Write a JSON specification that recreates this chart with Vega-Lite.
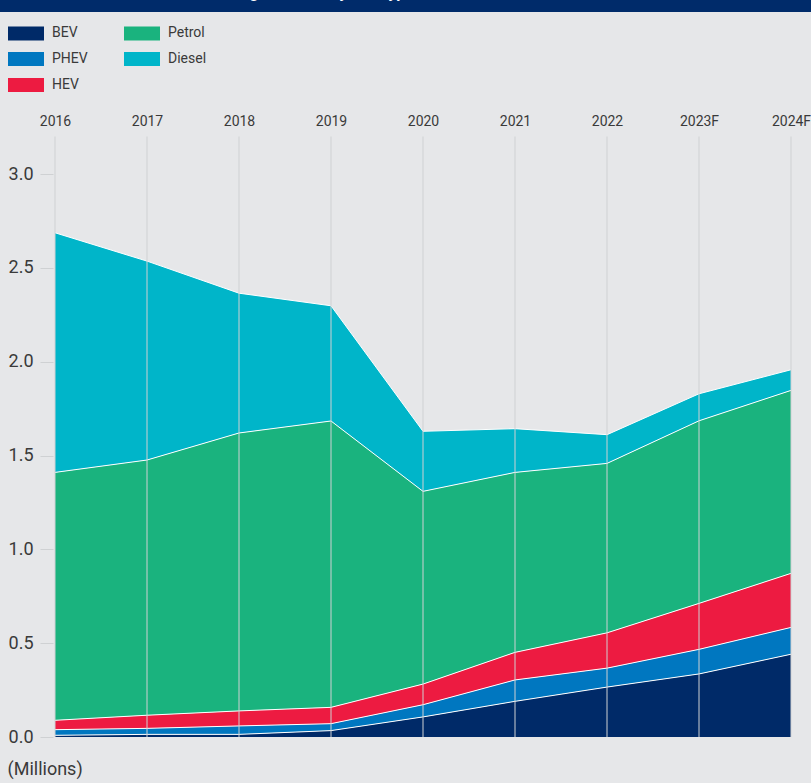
{
  "$schema": "https://vega.github.io/schema/vega-lite/v6.json",
  "width": 811,
  "height": 783,
  "autosize": {"type": "none"},
  "padding": 0,
  "background": "#e6e7e9",
  "config": {
    "view": {"stroke": null},
    "font": "Roboto",
    "axis": {"labelFont": "Roboto", "titleFont": "Roboto", "labelColor": "#3a3a3a", "titleColor": "#3a3a3a"},
    "legend": {"labelFont": "Roboto", "labelColor": "#3a3a3a"}
  },
  "data": {"values": [
    {"year": "2016", "type": "BEV", "order": 1, "value": 0.009},
    {"year": "2016", "type": "PHEV", "order": 2, "value": 0.030},
    {"year": "2016", "type": "HEV", "order": 3, "value": 0.050},
    {"year": "2016", "type": "Petrol", "order": 4, "value": 1.321},
    {"year": "2016", "type": "Diesel", "order": 5, "value": 1.277},
    {"year": "2017", "type": "BEV", "order": 1, "value": 0.014},
    {"year": "2017", "type": "PHEV", "order": 2, "value": 0.032},
    {"year": "2017", "type": "HEV", "order": 3, "value": 0.070},
    {"year": "2017", "type": "Petrol", "order": 4, "value": 1.360},
    {"year": "2017", "type": "Diesel", "order": 5, "value": 1.060},
    {"year": "2018", "type": "BEV", "order": 1, "value": 0.014},
    {"year": "2018", "type": "PHEV", "order": 2, "value": 0.045},
    {"year": "2018", "type": "HEV", "order": 3, "value": 0.080},
    {"year": "2018", "type": "Petrol", "order": 4, "value": 1.481},
    {"year": "2018", "type": "Diesel", "order": 5, "value": 0.745},
    {"year": "2019", "type": "BEV", "order": 1, "value": 0.034},
    {"year": "2019", "type": "PHEV", "order": 2, "value": 0.037},
    {"year": "2019", "type": "HEV", "order": 3, "value": 0.087},
    {"year": "2019", "type": "Petrol", "order": 4, "value": 1.526},
    {"year": "2019", "type": "Diesel", "order": 5, "value": 0.614},
    {"year": "2020", "type": "BEV", "order": 1, "value": 0.107},
    {"year": "2020", "type": "PHEV", "order": 2, "value": 0.065},
    {"year": "2020", "type": "HEV", "order": 3, "value": 0.110},
    {"year": "2020", "type": "Petrol", "order": 4, "value": 1.027},
    {"year": "2020", "type": "Diesel", "order": 5, "value": 0.320},
    {"year": "2021", "type": "BEV", "order": 1, "value": 0.190},
    {"year": "2021", "type": "PHEV", "order": 2, "value": 0.114},
    {"year": "2021", "type": "HEV", "order": 3, "value": 0.147},
    {"year": "2021", "type": "Petrol", "order": 4, "value": 0.959},
    {"year": "2021", "type": "Diesel", "order": 5, "value": 0.233},
    {"year": "2022", "type": "BEV", "order": 1, "value": 0.266},
    {"year": "2022", "type": "PHEV", "order": 2, "value": 0.101},
    {"year": "2022", "type": "HEV", "order": 3, "value": 0.188},
    {"year": "2022", "type": "Petrol", "order": 4, "value": 0.903},
    {"year": "2022", "type": "Diesel", "order": 5, "value": 0.153},
    {"year": "2023F", "type": "BEV", "order": 1, "value": 0.336},
    {"year": "2023F", "type": "PHEV", "order": 2, "value": 0.131},
    {"year": "2023F", "type": "HEV", "order": 3, "value": 0.245},
    {"year": "2023F", "type": "Petrol", "order": 4, "value": 0.973},
    {"year": "2023F", "type": "Diesel", "order": 5, "value": 0.144},
    {"year": "2024F", "type": "BEV", "order": 1, "value": 0.441},
    {"year": "2024F", "type": "PHEV", "order": 2, "value": 0.143},
    {"year": "2024F", "type": "HEV", "order": 3, "value": 0.288},
    {"year": "2024F", "type": "Petrol", "order": 4, "value": 0.975},
    {"year": "2024F", "type": "Diesel", "order": 5, "value": 0.110}
  ]},
  "layer": [
    {
      "mark": {"type": "area", "opacity": 1, "line": {"stroke": "white", "strokeWidth": 1}},
      "encoding": {
        "x": {
          "field": "year", "type": "ordinal", "title": null,
          "scale": {"type": "point", "domain": ["2016", "2017", "2018", "2019", "2020", "2021", "2022", "2023F", "2024F"], "range": [55, 791], "padding": 0},
          "axis": {"orient": "top", "offset": -136.5, "domain": false, "ticks": false, "grid": false, "labelPadding": 8, "labelFontSize": 14, "labelAngle": 0, "zindex": 2}
        },
        "y": {
          "field": "value", "type": "quantitative", "stack": "zero", "title": "(Millions)",
          "scale": {"domain": [0, 3.2], "range": [737, 136.5], "nice": false, "zero": true},
          "axis": {"orient": "left", "offset": -53, "values": [0, 0.5, 1, 1.5, 2, 2.5, 3], "format": ".1f", "domain": false, "grid": false, "tickSize": 13, "tickColor": "#cfd1d3", "labelFontSize": 18, "labelPadding": 7, "titleAngle": 0, "titleAlign": "left", "titleBaseline": "middle", "titleX": -46, "titleY": 769, "titleFontSize": 18, "titleFontWeight": "normal", "zindex": 2}
        },
        "color": {
          "field": "type", "type": "nominal",
          "scale": {"domain": ["BEV", "PHEV", "HEV", "Petrol", "Diesel"], "range": ["#002a68", "#0077c0", "#ed1b41", "#1ab37e", "#00b5c9"]},
          "legend": {"title": null, "orient": "none", "legendX": 8, "legendY": 15, "direction": "vertical", "columns": 2, "columnPadding": 36, "rowPadding": -5.7, "symbolType": "M-1,-0.39H1V0.39H-1Z", "symbolSize": 1296, "symbolStrokeWidth": 0, "symbolOpacity": 1, "labelFontSize": 14, "labelOffset": 8}
        },
        "order": {"field": "order", "type": "quantitative"}
      }
    },
    {
      "data": {"values": [{"year": "2016"}, {"year": "2017"}, {"year": "2018"}, {"year": "2019"}, {"year": "2020"}, {"year": "2021"}, {"year": "2022"}, {"year": "2023F"}, {"year": "2024F"}]},
      "mark": {"type": "rule", "color": "#cfd1d3", "strokeWidth": 1},
      "encoding": {
        "x": {"field": "year", "type": "ordinal"},
        "y": {"datum": 0, "type": "quantitative"},
        "y2": {"datum": 3.2}
      }
    },
    {
      "data": {"values": [{"t": "Chart 4: Annual UK new car registrations by fuel type"}]},
      "mark": {"type": "rect", "fill": "#002b6a", "clip": false},
      "encoding": {
        "y": {"datum": 3.9274, "type": "quantitative"},
        "y2": {"datum": 3.8635}
      }
    },
    {
      "data": {"values": [{"t": "Chart 4: Annual UK new car registrations by fuel type"}]},
      "mark": {"type": "text", "color": "white", "fontWeight": "bold", "fontSize": 16, "align": "right", "baseline": "alphabetic", "dx": -9, "dy": -2},
      "encoding": {
        "x": {"datum": "2020", "type": "ordinal"},
        "y": {"datum": 3.9274, "type": "quantitative"},
        "text": {"field": "t"}
      }
    }
  ]
}
